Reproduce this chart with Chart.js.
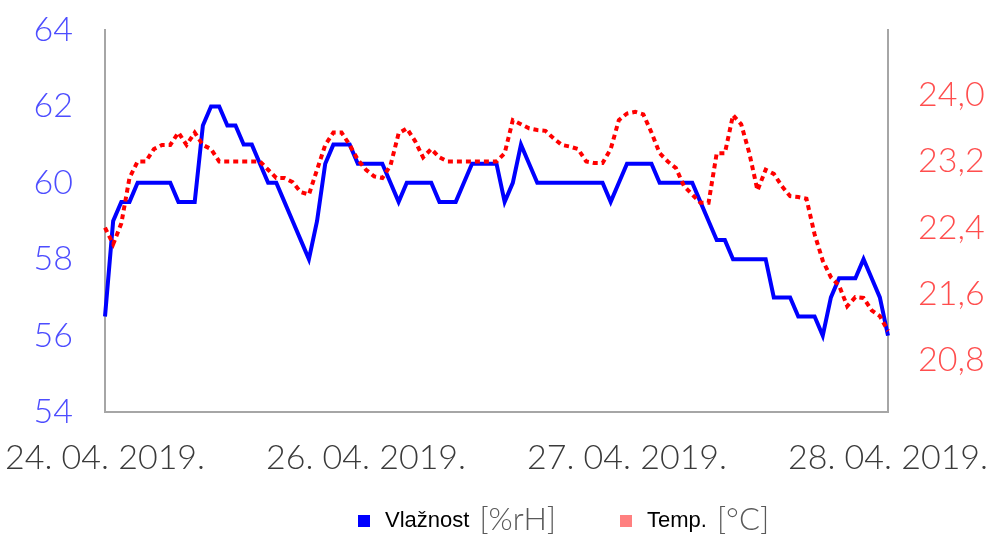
<!DOCTYPE html>
<html>
<head>
<meta charset="utf-8">
<script src="https://cdn.jsdelivr.net/npm/chart.js@4"></script>
<style>
  html, body { margin: 0; padding: 0; background: #fff; }
  #wrap { width: 995px; height: 537px; }
</style>
</head>
<body>
<div id="wrap"><canvas id="chart" width="995" height="537"></canvas></div>
<script>
// values
const dateLabels = ['24. 04. 2019.', '26. 04. 2019.', '27. 04. 2019.', '28. 04. 2019.'];
const labelStep = 32;

const humidity = [
    56.5, 59, 59.5, 59.5, 60, 60, 60, 60, 60, 59.5,
    59.5, 59.5, 61.5, 62, 62, 61.5, 61.5, 61, 61, 60.5,
    60, 60, 59.5, 59, 58.5, 58, 59, 60.5, 61, 61,
    61, 60.5, 60.5, 60.5, 60.5, 60, 59.5, 60, 60, 60,
    60, 59.5, 59.5, 59.5, 60, 60.5, 60.5, 60.5, 60.5, 59.5,
    60, 61, 60.5, 60, 60, 60, 60, 60, 60, 60,
    60, 60, 59.5, 60, 60.5, 60.5, 60.5, 60.5, 60, 60,
    60, 60, 60, 59.5, 59, 58.5, 58.5, 58, 58, 58,
    58, 58, 57, 57, 57, 56.5, 56.5, 56.5, 56, 57,
    57.5, 57.5, 57.5, 58, 57.5, 57, 56
];

const temperature = [
    22.4, 22.2, 22.45, 23.0, 23.2, 23.2, 23.35, 23.4, 23.4, 23.55,
    23.4, 23.55, 23.4, 23.35, 23.2, 23.2, 23.2, 23.2, 23.2, 23.2,
    23.1, 23.0, 23.0, 22.95, 22.83, 22.8, 23.1, 23.4, 23.55, 23.55,
    23.4, 23.22, 23.1, 23.02, 23.0, 23.15, 23.54, 23.6, 23.45, 23.25,
    23.35, 23.25, 23.2, 23.2, 23.2, 23.2, 23.2, 23.2, 23.2, 23.3,
    23.7, 23.65, 23.6, 23.58, 23.57, 23.48, 23.4, 23.38, 23.35, 23.2,
    23.18, 23.18, 23.35, 23.7, 23.78, 23.8, 23.77, 23.55, 23.3, 23.2,
    23.12, 22.9, 22.8, 22.7, 22.7, 23.3, 23.3, 23.76, 23.65, 23.3,
    22.85, 23.1, 23.05, 22.9, 22.78, 22.77, 22.75, 22.32, 22.0, 21.8,
    21.7, 21.45, 21.56, 21.55, 21.4, 21.33, 21.15
];

const humidityTicks = [54, 56, 58, 60, 62, 64];
const tempTicks = [20.8, 21.6, 22.4, 23.2, 24.0];

const seriesNames = ['Vla\u017enost', 'Temp.'];
const seriesUnits = ['[%rH]', '[\u00b0C]'];

// legend drawn with two fonts, like the original (name + unit)
const mixedLegend = {
    id: 'mixedLegend',
    afterDraw(chart) {
        const ctx = chart.ctx;
        const y = 521;
        const starts = [358, 620];
        ctx.save();
        ctx.textBaseline = 'middle';
        chart.data.datasets.forEach((ds, i) => {
            let x = starts[i];
            ctx.fillStyle = ds.backgroundColor;
            ctx.fillRect(x, y - 6, 12, 12);
            x += 27;
            ctx.font = '22px "Liberation Sans"';
            ctx.fillStyle = '#000';
            ctx.fillText(seriesNames[i], x, y);
            x += ctx.measureText(seriesNames[i]).width + 10;
            ctx.font = '300 31px Lato';
            ctx.fillStyle = '#595959';
            ctx.fillText(seriesUnits[i], x, y - 1);
        });
        ctx.restore();
    }
};

document.addEventListener('DOMContentLoaded', function() {
    const ctx = document.getElementById('chart').getContext('2d');

    const categories = humidity.map((v, i) => i % labelStep === 0 ? dateLabels[i / labelStep] : '');
    const tickFont = { family: 'Lato', size: 34, weight: 300 };
    const axisColor = '#a6a6a6';
    // invisible tick marks give the label gap without widening the layout padding
    const hiddenGrid = len => ({
        display: true,
        drawOnChartArea: false,
        drawTicks: true,
        tickLength: len,
        color: 'rgba(0,0,0,0)'
    });

    new Chart(ctx, {
        type: 'line',
        data: {
            labels: categories,
            datasets: [{
                label: seriesNames[0],
                data: humidity,
                yAxisID: 'y',
                borderColor: '#0000ff',
                backgroundColor: '#0000ff',
                borderWidth: 4,
                pointRadius: 0,
                tension: 0,
                order: 2
            }, {
                label: seriesNames[1],
                data: temperature,
                yAxisID: 'y1',
                borderColor: '#ff0000',
                backgroundColor: '#ff8080',
                borderWidth: 4,
                borderDash: [5, 4],
                pointRadius: 0,
                tension: 0,
                order: 1
            }]
        },
        options: {
            responsive: false,
            animation: false,
            layout: { padding: { top: 30, left: 0, right: 0, bottom: 65 } },
            plugins: {
                tooltip: { enabled: false },
                legend: { display: false }
            },
            scales: {
                x: {
                    grid: hiddenGrid(26),
                    border: { display: true, color: axisColor, width: 2 },
                    ticks: {
                        autoSkip: false,
                        maxRotation: 0,
                        padding: 0,
                        color: '#3a3a3a',
                        font: tickFont
                    },
                    afterFit: function(scale) { scale.height = 60; }
                },
                y: {
                    position: 'left',
                    min: humidityTicks[0],
                    max: humidityTicks[humidityTicks.length - 1],
                    grid: hiddenGrid(32),
                    border: { display: true, color: axisColor, width: 2 },
                    afterBuildTicks: function(scale) {
                        scale.ticks = humidityTicks.map(v => ({ value: v }));
                    },
                    ticks: {
                        padding: 0,
                        color: '#4d4dff',
                        font: tickFont
                    },
                    afterFit: function(scale) { scale.width = 105; }
                },
                y1: {
                    position: 'right',
                    min: 20.17,
                    max: 24.79,
                    grid: hiddenGrid(30),
                    border: { display: true, color: axisColor, width: 2 },
                    afterBuildTicks: function(scale) {
                        scale.ticks = tempTicks.map(v => ({ value: v }));
                    },
                    ticks: {
                        padding: 0,
                        color: '#ff4d4d',
                        font: tickFont,
                        callback: v => v.toFixed(1).replace('.', ',')
                    },
                    afterFit: function(scale) { scale.width = 107; }
                }
            }
        },
        plugins: [mixedLegend]
    });
});
</script>
</body>
</html>
